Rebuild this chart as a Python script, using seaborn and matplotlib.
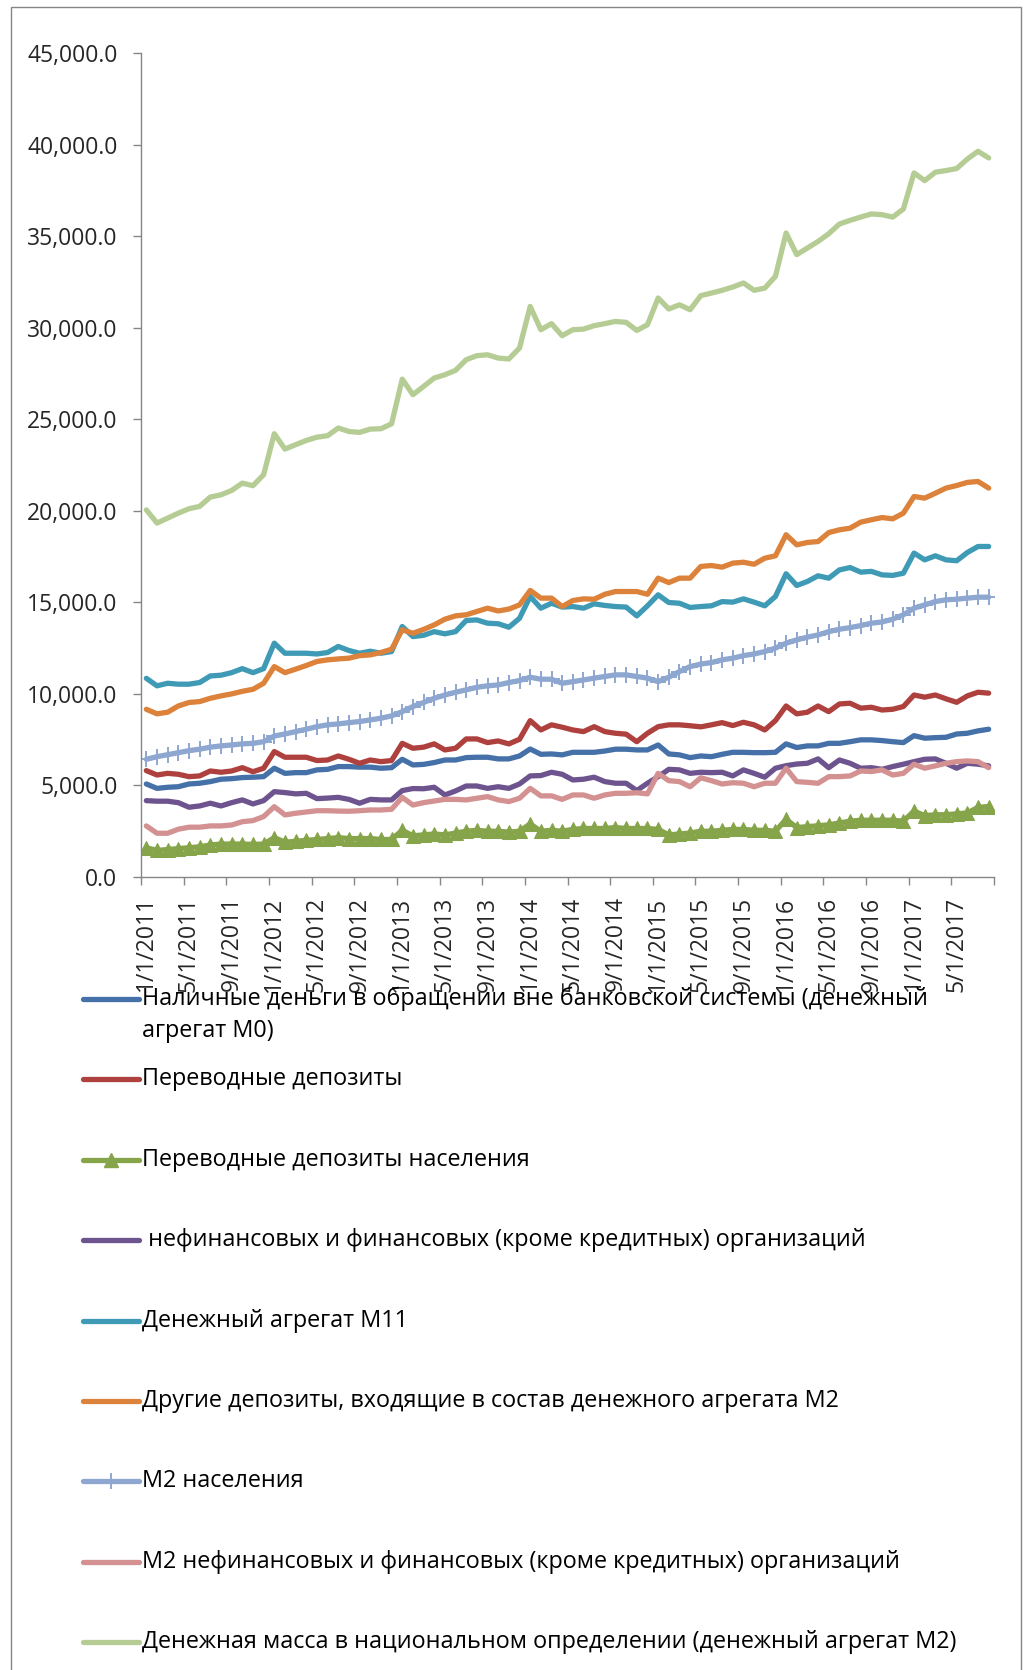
import numpy as np
import pandas as pd
import matplotlib
matplotlib.use('Agg')
import matplotlib.pyplot as plt
import seaborn as sns
from matplotlib.lines import Line2D
from matplotlib.patches import Rectangle

# monthly data, Jan 2011 - Aug 2017 (80 months)
months = pd.date_range('2011-01-01', periods=80, freq='MS')

m0 = [5080, 4840, 4900, 4930, 5080, 5120, 5210, 5340, 5370, 5430, 5450, 5480, 5940, 5660, 5700, 5700,
      5850, 5880, 6030, 6030, 6000, 6000, 5940, 5970, 6430, 6120, 6150,
      6250, 6390, 6390, 6520, 6540, 6540, 6450, 6450, 6610, 6990, 6700, 6720, 6670, 6810, 6810, 6810,
      6880, 6980, 6980, 6940, 6940, 7210, 6720, 6670, 6520, 6610,
      6570, 6700, 6810, 6810, 6790, 6790, 6810, 7270, 7070, 7160, 7160, 7300, 7300, 7390, 7490, 7490,
      7450, 7390, 7340, 7720, 7580, 7610, 7630, 7810, 7850, 7980, 8070]

transfer = [5810, 5570, 5660, 5610, 5480, 5520, 5790, 5720, 5790, 5970, 5750, 5940, 6850, 6540, 6540, 6540,
            6360, 6390, 6610, 6430, 6210, 6390, 6300, 6360, 7300, 7030, 7090,
            7270, 6940, 7030, 7540, 7540, 7340, 7430, 7270, 7520, 8540, 8030, 8310, 8180, 8030, 7940, 8210,
            7940, 7850, 7800, 7390, 7850, 8210, 8310, 8310, 8260, 8200,
            8310, 8430, 8270, 8450, 8310, 8030, 8540, 9340, 8910, 9000, 9340, 9030, 9450, 9490, 9220, 9270,
            9120, 9160, 9310, 9940, 9820, 9940, 9730, 9540, 9890, 10090, 10040]

transfer_pop = [1600, 1450, 1500, 1550, 1600, 1650, 1750, 1800, 1800, 1800, 1780, 1800, 2150, 1900, 1950, 2000,
                2050, 2100, 2150, 2100, 2100, 2100, 2050, 2050, 2550, 2250, 2300,
                2350, 2300, 2400, 2500, 2550, 2500, 2500, 2450, 2500, 2900, 2500, 2550, 2500, 2600, 2650, 2650,
                2650, 2700, 2650, 2650, 2650, 2600, 2300, 2350, 2400, 2500,
                2500, 2550, 2600, 2600, 2550, 2550, 2500, 3150, 2700, 2750, 2800, 2850, 2950, 3050, 3100, 3100,
                3100, 3100, 3050, 3600, 3350, 3400, 3400, 3450, 3500, 3800, 3850]

nonfin = [4170, 4140, 4140, 4060, 3810, 3880, 4030, 3880, 4060, 4210, 3990, 4170, 4660, 4610, 4540, 4570,
          4280, 4310, 4350, 4240, 4030, 4240, 4210, 4210, 4720, 4830, 4820,
          4900, 4480, 4700, 4970, 4970, 4840, 4930, 4840, 5080, 5520, 5540, 5720, 5610, 5300, 5340, 5450,
          5210, 5120, 5120, 4720, 5120, 5480, 5880, 5850, 5660, 5720,
          5700, 5720, 5520, 5850, 5660, 5450, 5940, 6080, 6170, 6210, 6450, 5970, 6390, 6210, 5940, 5970,
          5880, 6030, 6160, 6300, 6430, 6450, 6210, 5940, 6210, 6160, 6070]

m11 = [10850, 10440, 10580, 10530, 10530, 10620, 10980, 11020, 11160, 11380, 11160, 11380, 12770, 12220,
       12220, 12220, 12180, 12260, 12590, 12370, 12220, 12330, 12220, 12310, 13680, 13130, 13200,
       13400, 13280, 13400, 14010, 14040, 13860, 13830, 13640, 14130, 15320, 14680, 14950, 14740, 14770,
       14680, 14920, 14830, 14770, 14740, 14260, 14810, 15410, 14990, 14950, 14720, 14770,
       14810, 15040, 15010, 15190, 15010, 14810, 15320, 16560, 15920, 16140, 16450, 16320, 16770, 16900,
       16650, 16690, 16500, 16470, 16590, 17690, 17320, 17540, 17320, 17270, 17720, 18050, 18050]

other_dep = [9160, 8910, 9000, 9340, 9530, 9580, 9760, 9890, 10000, 10140, 10250, 10580, 11490, 11160,
             11350, 11550, 11770, 11860, 11910, 11950, 12090, 12130, 12260, 12440, 13500, 13310, 13520,
             13770, 14080, 14260, 14320, 14500, 14680, 14530, 14630, 14860, 15650, 15230, 15230, 14770, 15100,
             15190, 15170, 15440, 15590, 15590, 15590, 15440, 16320, 16080, 16320, 16320, 16960,
             17010, 16920, 17140, 17190, 17080, 17410, 17540, 18690, 18140, 18270, 18320, 18810, 18960, 19050,
             19380, 19510, 19630, 19560, 19870, 20780, 20690, 20960, 21240, 21380, 21550, 21600, 21240]

m2_pop = [6430, 6570, 6680, 6790, 6900, 6980, 7090, 7160, 7210, 7270, 7300, 7390, 7700, 7810, 7940, 8070,
          8210, 8310, 8360, 8430, 8490, 8580, 8670, 8800, 9030, 9310, 9530,
          9760, 9940, 10090, 10220, 10360, 10440, 10490, 10620, 10730, 10910, 10800, 10800, 10580, 10670,
          10760, 10860, 10950, 11040, 11040, 10950, 10860, 10670, 10910, 11220, 11490, 11630,
          11710, 11860, 11950, 12090, 12180, 12310, 12500, 12770, 12950, 13100, 13220, 13400, 13530, 13620,
          13730, 13860, 13930, 14080, 14320, 14680, 14860, 15040, 15140, 15170, 15230, 15280, 15280]

m2_nonfin = [2790, 2390, 2390, 2610, 2720, 2720, 2790, 2790, 2840, 3020, 3080, 3300, 3840, 3390, 3480, 3550,
             3620, 3620, 3600, 3590, 3620, 3660, 3660, 3700, 4350, 3930, 4060,
             4150, 4240, 4240, 4210, 4300, 4390, 4210, 4120, 4300, 4840, 4430, 4430, 4240, 4480, 4480, 4300,
             4480, 4570, 4570, 4600, 4540, 5660, 5260, 5210, 4930, 5420,
             5260, 5080, 5150, 5120, 4930, 5120, 5120, 5940, 5210, 5170, 5120, 5480, 5480, 5520, 5790, 5760,
             5850, 5570, 5660, 6160, 5940, 6070, 6210, 6300, 6340, 6300, 5970]

m2 = [20050, 19330, 19600, 19870, 20110, 20240, 20750, 20870, 21110, 21510, 21370, 21970, 24210, 23370,
      23610, 23840, 24020, 24100, 24520, 24330, 24280, 24460, 24480, 24750, 27190, 26340, 26790, 27250,
      27430, 27670, 28250, 28470, 28520, 28340, 28290, 28890, 31160, 29890, 30220, 29560,
      29890, 29920, 30110, 30220, 30340, 30290, 29850, 30160, 31620, 31020, 31250, 30980, 31750, 31890,
      32040, 32220, 32440, 32040, 32160, 32800, 35170, 33990, 34350, 34710, 35130, 35660, 35860, 36040,
      36210, 36170, 36040, 36480, 38450, 38030, 38490, 38580, 38690, 39210, 39630, 39270]

labels = ['Наличные деньги в обращении вне банковской системы (денежный\nагрегат М0)',
          'Переводные депозиты',
          'Переводные депозиты населения',
          ' нефинансовых и финансовых (кроме кредитных) организаций',
          'Денежный агрегат М11',
          'Другие депозиты, входящие в состав денежного агрегата М2',
          'М2 населения',
          'М2 нефинансовых и финансовых (кроме кредитных) организаций',
          'Денежная масса в национальном определении (денежный агрегат М2)']

series = [m0, transfer, transfer_pop, nonfin, m11, other_dep, m2_pop, m2_nonfin, m2]
colors = ['#4570A8', '#AE403D', '#86A44A', '#6E548E', '#3E9AB5', '#DC823A', '#8EA7D0', '#D39291', '#B5CD94']
markers = [None, None, '^', None, None, None, '+', None, None]

sns.set_style('white')
plt.rcParams['font.family'] = ['Open Sans', 'DejaVu Sans']

fig = plt.figure(figsize=(10.24, 16.7), dpi=100)
ax = fig.add_axes([141 / 1024, 1 - 877 / 1670, (994 - 141) / 1024, (877 - 53) / 1670])

x = np.arange(len(months))
for vals, col, mk in zip(series, colors, markers):
    kw = dict(solid_joinstyle='round', solid_capstyle='round')
    if mk == '^':
        kw.update(marker='^', markersize=10.5, markeredgecolor=col, markerfacecolor=col)
    elif mk == '+':
        kw.update(marker='+', markersize=11, markeredgewidth=1.4, markeredgecolor=col)
    sns.lineplot(x=x, y=vals, ax=ax, color=col, linewidth=3.8, legend=False, **kw)

ax.set_xlim(-0.5, len(months) - 0.5)
ax.set_ylim(0, 45000)
ax.set_yticks(np.arange(0, 45001, 5000))
ax.yaxis.set_major_formatter(matplotlib.ticker.FuncFormatter(lambda v, p: f'{v:,.1f}'))

tick_pos = np.arange(0, len(months), 4)
ax.set_xticks(tick_pos)
ax.set_xticklabels([f'{d.month}/1/{d.year}' for d in months[tick_pos]], rotation=90)
ax.set_xticks(np.arange(-0.5, len(months), 4), minor=True)
ax.tick_params(axis='x', which='major', length=0, pad=14, labelsize=16.5)
ax.tick_params(axis='x', which='minor', length=6, width=1, color='#868686', direction='out', bottom=True)
ax.tick_params(axis='y', length=6, width=1, color='#868686', direction='out', left=True, pad=11, labelsize=16.5)
ax.set_xlabel('')
ax.set_ylabel('')

for s in ['top', 'right']:
    ax.spines[s].set_visible(False)
for s in ['left', 'bottom']:
    ax.spines[s].set_color('#868686')
    ax.spines[s].set_linewidth(1)

# legend drawn below the plot, one row per series
for k, (lab, col, mk) in enumerate(zip(labels, colors, markers)):
    yf = 1 - (999 + 80.4 * k) / 1670
    fig.add_artist(Line2D([83 / 1024, 139 / 1024], [yf, yf], transform=fig.transFigure,
                          color=col, linewidth=3.8, solid_capstyle='round'))
    if mk == '^':
        fig.add_artist(Line2D([111 / 1024], [yf], transform=fig.transFigure, marker='^',
                              markersize=10.5, color=col, linestyle='none'))
    elif mk == '+':
        fig.add_artist(Line2D([111 / 1024], [yf], transform=fig.transFigure, marker='+',
                              markersize=11, markeredgewidth=1.4, color=col, linestyle='none'))
    for j, line in enumerate(lab.split('\n')):
        fig.text(142 / 1024, yf - j * 32 / 1670, line, fontsize=16.8, va='center', ha='left', color='black')

fig.add_artist(Rectangle((11 / 1024, -0.02), 1010 / 1024, (1670 - 7) / 1670 + 0.02,
                         transform=fig.transFigure, fill=False, edgecolor='#868686', linewidth=1))

fig.savefig('out.png', dpi=100)
